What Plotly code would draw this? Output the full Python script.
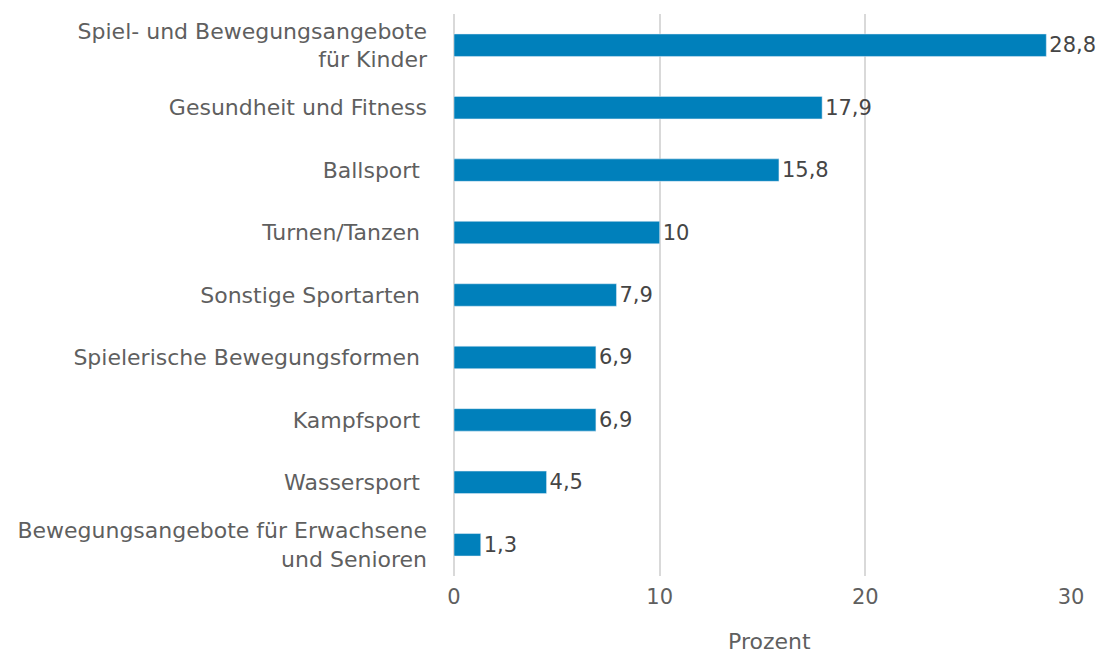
import plotly.graph_objects as go

categories = [
    "Spiel- und Bewegungsangebote<br>für Kinder",
    "Gesundheit und Fitness",
    "Ballsport\u00a0",
    "Turnen/Tanzen\u00a0",
    "Sonstige Sportarten\u00a0",
    "Spielerische Bewegungsformen\u00a0",
    "Kampfsport\u00a0",
    "Wassersport\u00a0",
    "Bewegungsangebote für Erwachsene<br>und Senioren",
]
values = [28.8, 17.9, 15.8, 10, 7.9, 6.9, 6.9, 4.5, 1.3]
labels = [f"{v:g}".replace(".", ",") for v in values]
x_title = "Prozent"

font = "DejaVu Sans, sans-serif"

fig = go.Figure(go.Bar(
    x=values,
    y=categories,
    orientation="h",
    width=0.36,
    marker_color="#0080bb",
    text=labels,
    textposition="outside",
    constraintext="none",
    cliponaxis=False,
    textfont=dict(family=font, size=21, color="#454545"),
))

# page body has an 8px margin, so the margins are shifted by that
fig.update_layout(
    width=1106,
    height=657,
    margin=dict(l=446, r=43, t=6, b=89, autoexpand=False),
    plot_bgcolor="white",
    paper_bgcolor="white",
    showlegend=False,
    font=dict(family=font, size=22, color="#5f5f5f"),
)
# axis title as an annotation so it sits a bit right of centre, like the original
fig.add_annotation(
    text=x_title,
    xref="paper", yref="paper",
    x=0.512, y=-0.116,
    xanchor="center", yanchor="middle",
    showarrow=False,
    font=dict(family=font, size=22, color="#5f5f5f"),
)
fig.update_xaxes(
    range=[0, 30],
    tickvals=[0, 10, 20, 30],
    showgrid=True,
    gridcolor="#d9d9d9",
    gridwidth=1.5,
    zeroline=True,
    zerolinecolor="#d9d9d9",
    zerolinewidth=1.5,
    showline=False,
    automargin=False,
    ticklabelstandoff=6,
    tickfont=dict(family=font, size=21, color="#5f5f5f"),
)
fig.update_yaxes(
    autorange="reversed",
    showgrid=False,
    automargin=False,
    ticklabelstandoff=26,
    tickfont=dict(family=font, size=22, color="#5f5f5f"),
)

fig.write_html("out.html")
